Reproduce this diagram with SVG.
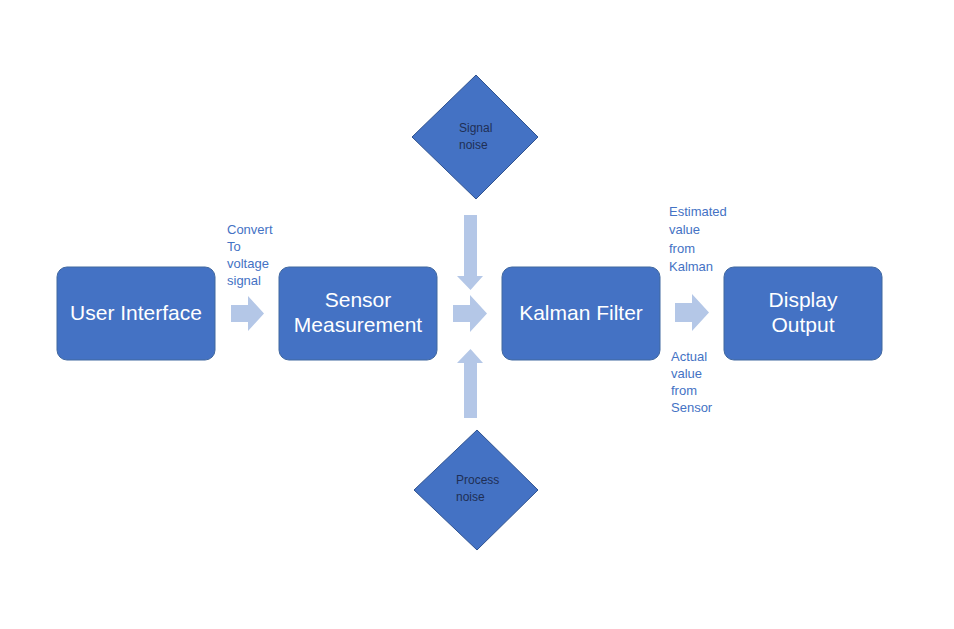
<svg xmlns="http://www.w3.org/2000/svg" width="954" height="629" viewBox="0 0 954 629">
<style>
.box{fill:#4472C4;stroke:#41689F;stroke-width:1}
.dia{fill:#4472C4;stroke:#2F528F;stroke-width:1}
.arr{fill:#B4C7E7}
.bt{font-family:"Liberation Sans",Arial,sans-serif;font-size:21px;fill:#FFFFFF;text-anchor:middle}
.dt{font-family:"Liberation Sans",Arial,sans-serif;font-size:12px;fill:#1F2F55}
.lt{font-family:"Liberation Sans",Arial,sans-serif;font-size:13px;fill:#4472C4}
</style>
<rect width="954" height="629" fill="#FFFFFF"/>
<g id="connectors">
<polygon class="arr" points="231,305 248,305 248,296 264,313.5 248,331 248,322 231,322"/>
<polygon class="arr" points="453,305 470,305 470,295 487,313.5 470,332 470,322 453,322"/>
<polygon class="arr" points="675,303 692,303 692,294 709,312.5 692,331 692,322 675,322"/>
<polygon class="arr" points="464,215 477,215 477,276 483,276 470.5,290 457,276 464,276"/>
<polygon class="arr" points="464,418 477,418 477,363 483,363 470.5,349 457,363 464,363"/>
<text class="lt"><tspan x="227" y="234">Convert</tspan><tspan x="227" y="251">To</tspan><tspan x="227" y="268">voltage</tspan><tspan x="227" y="285">signal</tspan></text>
<text class="lt"><tspan x="669" y="216">Estimated</tspan><tspan x="669" y="234">value</tspan><tspan x="669" y="253">from</tspan><tspan x="669" y="271">Kalman</tspan></text>
<text class="lt"><tspan x="671" y="361">Actual</tspan><tspan x="671" y="378">value</tspan><tspan x="671" y="395">from</tspan><tspan x="671" y="412">Sensor</tspan></text>
</g>
<g id="user-interface">
<rect class="box" x="57" y="267" width="158" height="93" rx="10"/>
<text class="bt" x="136" y="320">User Interface</text>
</g>
<g id="sensor-measurement">
<rect class="box" x="279" y="267" width="158" height="93" rx="10"/>
<text class="bt" x="358" y="307">Sensor</text>
<text class="bt" x="358" y="332">Measurement</text>
</g>
<g id="kalman-filter">
<rect class="box" x="502" y="267" width="158" height="93" rx="10"/>
<text class="bt" x="581" y="320">Kalman Filter</text>
</g>
<g id="display-output">
<rect class="box" x="724" y="267" width="158" height="93" rx="10"/>
<text class="bt" x="803" y="307">Display</text>
<text class="bt" x="803" y="332">Output</text>
</g>
<g id="signal-noise">
<polygon class="dia" points="476,75 538,137 476,199 412,137"/>
<text class="dt"><tspan x="459" y="132">Signal</tspan><tspan x="459" y="149">noise</tspan></text>
</g>
<g id="process-noise">
<polygon class="dia" points="477,430 538,490 477,550 414,490"/>
<text class="dt"><tspan x="456" y="484">Process</tspan><tspan x="456" y="501">noise</tspan></text>
</g>
</svg>
